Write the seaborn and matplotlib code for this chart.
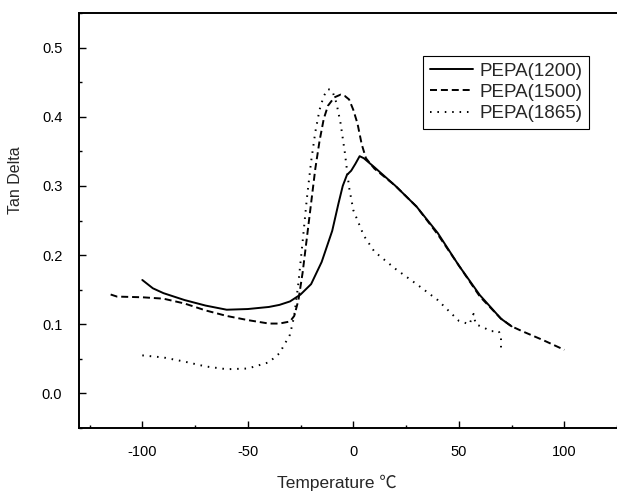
import numpy as np
import pandas as pd
import matplotlib
matplotlib.use("Agg")
import matplotlib.pyplot as plt
from matplotlib.ticker import MultipleLocator, FormatStrFormatter
import seaborn as sns

# tan delta curves
t_1200 = [-100, -95, -90, -80, -70, -60, -50, -40, -35, -30, -27, -25, -20, -15,
          -10, -7, -5, -3, -1, 1, 3, 5, 10, 20, 30, 40, 50, 60, 70, 75]
tan_1200 = [0.164, 0.152, 0.145, 0.135, 0.127, 0.121, 0.122, 0.125, 0.128, 0.133,
            0.139, 0.143, 0.158, 0.190, 0.235, 0.275, 0.300, 0.316, 0.322, 0.332,
            0.343, 0.340, 0.327, 0.300, 0.270, 0.232, 0.185, 0.142, 0.108, 0.097]

t_1500 = [-115, -112, -100, -90, -80, -70, -60, -50, -40, -35, -30, -28, -26, -24,
          -22, -20, -18, -16, -14, -12, -9, -6, -4, -2, 0, 2, 4, 6, 10, 20, 30,
          40, 50, 60, 70, 75, 80, 90, 100]
tan_1500 = [0.143, 0.140, 0.139, 0.137, 0.130, 0.120, 0.112, 0.106, 0.101, 0.101,
            0.104, 0.112, 0.135, 0.175, 0.225, 0.275, 0.325, 0.365, 0.397, 0.416,
            0.428, 0.432, 0.430, 0.425, 0.410, 0.390, 0.360, 0.340, 0.325, 0.300,
            0.270, 0.230, 0.185, 0.140, 0.108, 0.097, 0.090, 0.077, 0.063]

t_1865 = [-100, -90, -80, -70, -60, -50, -40, -35, -30, -28, -26, -24, -22, -20,
          -18, -16, -14, -12, -10, -8, -6, -4, -2, 0, 5, 10, 20, 30, 40, 45, 50,
          55, 57, 58, 62, 65, 69, 70, 70]
tan_1865 = [0.055, 0.052, 0.046, 0.039, 0.035, 0.036, 0.045, 0.058, 0.085, 0.112,
            0.160, 0.220, 0.282, 0.335, 0.378, 0.410, 0.430, 0.440, 0.438, 0.420,
            0.390, 0.348, 0.298, 0.265, 0.228, 0.205, 0.180, 0.158, 0.135, 0.120,
            0.105, 0.100, 0.115, 0.100, 0.095, 0.090, 0.090, 0.080, 0.065]

labels = ["PEPA(1200)", "PEPA(1500)", "PEPA(1865)"]

df = pd.concat([
    pd.DataFrame({"T": t, "tan": v, "sample": lab})
    for t, v, lab in zip([t_1200, t_1500, t_1865], [tan_1200, tan_1500, tan_1865], labels)
], ignore_index=True)

sns.set_style("ticks")
plt.rcParams["font.family"] = ["Liberation Sans", "Noto Sans CJK SC"]
plt.rcParams["axes.unicode_minus"] = False

fig = plt.figure(figsize=(6.17, 4.93), dpi=100)
ax = fig.add_axes([79 / 617, 1 - 428 / 493, 548.6 / 617, 415 / 493])

line_dashes = {labels[0]: "", labels[1]: (3.6, 2.0), labels[2]: (0.8, 3)}
sns.lineplot(data=df, x="T", y="tan", style="sample", dashes=line_dashes,
             color="black", linewidth=1.4, estimator=None, sort=False, ax=ax)

ax.set_xlim(-130, 130)
ax.set_ylim(-0.05, 0.55)
ax.xaxis.set_major_locator(MultipleLocator(50))
ax.xaxis.set_minor_locator(MultipleLocator(25))
ax.yaxis.set_major_locator(MultipleLocator(0.1))
ax.yaxis.set_minor_locator(MultipleLocator(0.05))
ax.yaxis.set_major_formatter(FormatStrFormatter("%.1f"))
ax.tick_params(which="both", direction="in", width=1, labelsize=10.5, colors="black")
ax.tick_params(which="major", length=5, pad=12)
ax.tick_params(which="minor", length=2.5)
for s in ["left", "top", "bottom"]:
    ax.spines[s].set_linewidth(1.4)
    ax.spines[s].set_color("black")
ax.spines["right"].set_visible(False)

ax.set_xlabel("Temperature ℃", fontsize=12.5, va="center")
ax.set_ylabel("Tan Delta", fontsize=11.5)
ax.xaxis.set_label_coords((337 - 79) / 548.6, -(483 - 428) / 415)
ax.yaxis.set_label_coords(-(79 - 23) / 548.6, (428 - 180) / 415)

handles, _ = ax.get_legend_handles_labels()
handles = handles[-3:]
leg = ax.legend(handles, labels, loc="upper left", bbox_to_anchor=(423 / 617, 1 - 56 / 493),
                bbox_transform=fig.transFigure, borderaxespad=0, fontsize=13.5,
                frameon=True, fancybox=False, edgecolor="black", framealpha=1,
                handlelength=2.3, handletextpad=0.35, labelspacing=0.22, borderpad=0.35)
leg.get_frame().set_linewidth(0.8)

fig.savefig("out.png", dpi=100)
